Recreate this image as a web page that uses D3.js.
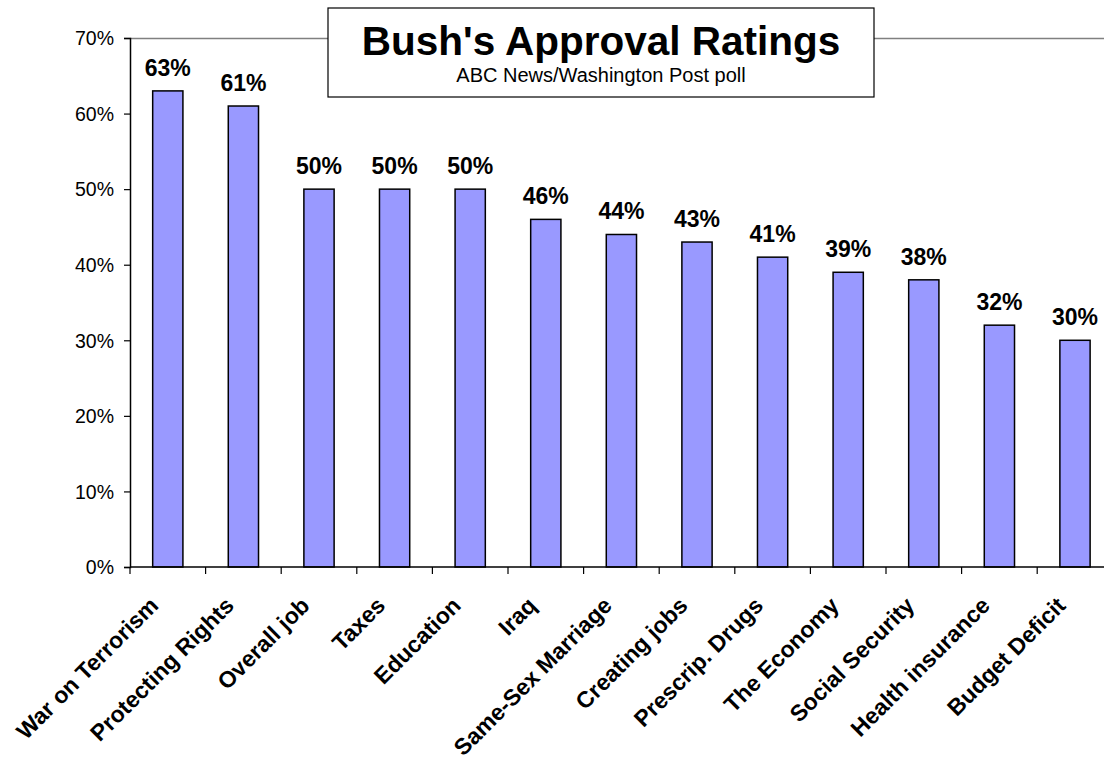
<!DOCTYPE html>
<html>
<head>
<meta charset="utf-8">
<script src="https://cdn.jsdelivr.net/npm/d3@7"></script>
<style>
  html, body { margin: 0; padding: 0; background: #fff; }
  svg { display: block; font-family: "Liberation Sans", Arial, sans-serif; }
</style>
</head>
<body>
<svg id="chart" width="1104" height="761"></svg>
<script>
const categories = ["War on Terrorism", "Protecting Rights", "Overall job", "Taxes", "Education", "Iraq",
  "Same-Sex Marriage", "Creating jobs", "Prescrip. Drugs", "The Economy", "Social Security",
  "Health insurance", "Budget Deficit"];
const approval = [0.63, 0.61, 0.50, 0.50, 0.50, 0.46, 0.44, 0.43, 0.41, 0.39, 0.38, 0.32, 0.30];
const yTicks = [0, 0.1, 0.2, 0.3, 0.4, 0.5, 0.6, 0.7];
const titleText = "Bush's Approval Ratings";
const subtitleText = "ABC News/Washington Post poll";

(function () {
const svg = d3.select("#chart");
const W = 1104;
const plotLeft = 130, plotTop = 38, plotBottom = 567;
const step = 75.6;
const plotRight = plotLeft + categories.length * step;

const x = d3.scaleBand().domain(categories).range([plotLeft, plotRight]).paddingInner(0.6).paddingOuter(0.3);
const y = d3.scaleLinear().domain([0, 0.7]).range([plotBottom, plotTop]);

// top border of plot area
svg.append("line").attr("x1", plotLeft).attr("x2", W).attr("y1", plotTop + 0.5).attr("y2", plotTop + 0.5)
  .attr("stroke", "#808080").attr("stroke-width", 1.5);

// bars
svg.append("g").selectAll("rect").data(categories).join("rect")
  .attr("x", d => x(d))
  .attr("y", (d, i) => y(approval[i]))
  .attr("width", x.bandwidth())
  .attr("height", (d, i) => y(0) - y(approval[i]))
  .attr("fill", "#9999ff")
  .attr("stroke", "#000")
  .attr("stroke-width", 1.5);

// value labels
svg.append("g").selectAll("text").data(categories).join("text")
  .attr("x", d => x(d) + x.bandwidth() / 2)
  .attr("y", (d, i) => y(approval[i]) - 15)
  .attr("text-anchor", "middle")
  .attr("font-weight", "bold")
  .attr("font-size", 23)
  .attr("fill", "#000")
  .text((d, i) => d3.format(".0%")(approval[i]));

// y axis
const yAxis = d3.axisLeft(y).tickValues(yTicks).tickFormat(d3.format(".0%")).tickSize(6).tickPadding(10);
const gy = svg.append("g").attr("transform", `translate(${plotLeft},0)`).call(yAxis);
gy.select(".domain").attr("stroke", "#000").attr("stroke-width", 1.5);
gy.selectAll(".tick line").attr("stroke", "#000").attr("stroke-width", 1.2);
gy.selectAll(".tick text").attr("font-size", 19.5).attr("fill", "#000")
  .attr("font-family", "Liberation Sans, Arial, sans-serif").attr("dy", "0.35em");

// x axis line with ticks at band boundaries
svg.append("line").attr("x1", plotLeft).attr("x2", W).attr("y1", plotBottom).attr("y2", plotBottom)
  .attr("stroke", "#000").attr("stroke-width", 1.5);
const boundaries = d3.range(categories.length + 1).map(i => x(categories[0]) - x.step() * x.paddingOuter() + i * x.step());
svg.append("g").selectAll("line").data(boundaries.filter(b => b <= W)).join("line")
  .attr("x1", d => d).attr("x2", d => d)
  .attr("y1", plotBottom).attr("y2", plotBottom + 7)
  .attr("stroke", "#000").attr("stroke-width", 1.2);

// x labels
svg.append("g").selectAll("text").data(categories).join("text")
  .attr("transform", d => `translate(${x(d) + x.bandwidth() / 2 - 8},${plotBottom + 40}) rotate(-45)`)
  .attr("text-anchor", "end")
  .attr("font-weight", "bold")
  .attr("font-size", 23)
  .attr("fill", "#000")
  .text(d => d);

// title box
const boxX = 328, boxY = 8, boxW = 546, boxH = 89;
svg.append("rect").attr("x", boxX).attr("y", boxY).attr("width", boxW).attr("height", boxH)
  .attr("fill", "#fff").attr("stroke", "#000").attr("stroke-width", 1.2);
svg.append("text").attr("x", boxX + boxW / 2).attr("y", 55)
  .attr("text-anchor", "middle").attr("font-weight", "bold").attr("font-size", 40.5).attr("fill", "#000")
  .text(titleText);
svg.append("text").attr("x", boxX + boxW / 2).attr("y", 82)
  .attr("text-anchor", "middle").attr("font-size", 20).attr("fill", "#000")
  .text(subtitleText);
})();
</script>
</body>
</html>
